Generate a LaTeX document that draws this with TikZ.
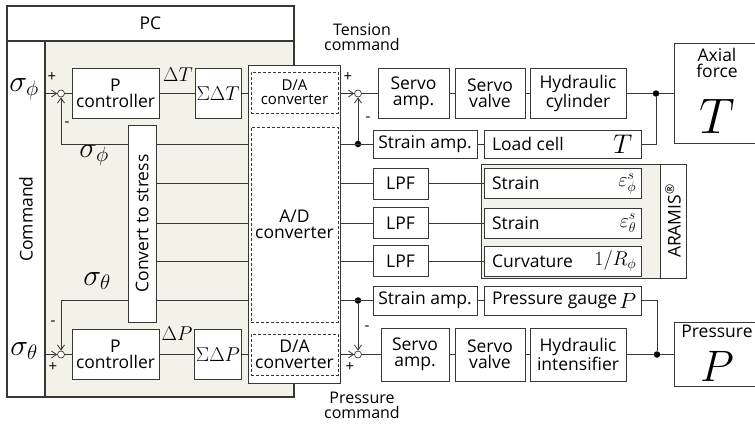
\RequirePackage{fix-cm}
\documentclass[tikz,border=0pt]{standalone}
\usepackage{fontspec}
\setmainfont{Open Sans}
\usepackage{tikz}
\usetikzlibrary{arrows.meta,positioning}
\definecolor{ln}{RGB}{55,55,55}
\definecolor{pcbg}{RGB}{242,242,232}

\begin{document}
\begin{tikzpicture}[x=1pt,y=-1pt,>={Straight Barb[length=5pt,width=7pt]},
  every node/.style={font=\fontsize{17.5}{16}\selectfont},
  frame/.style={draw=ln,line width=1.6pt,inner sep=0pt},
  box/.style={draw=ln,fill=white,line width=0.9pt,inner sep=0pt,align=center},
  dbox/.style={draw=ln,densely dashed,line width=0.6pt,inner sep=0pt,align=center},
  sum/.style={circle,draw=ln,fill=white,line width=0.7pt,inner sep=0pt,minimum size=7pt},
  dot/.style={circle,fill=black,inner sep=0pt,minimum size=6.5pt},
  wire/.style={draw=ln,line width=0.8pt},
  sgn/.style={font=\fontsize{15}{15}\selectfont},
  sig/.style={font=\fontsize{30}{30}\selectfont},
  mth/.style={font=\fontsize{20}{20}\selectfont,inner sep=1pt}]
\useasboundingbox (0,0) rectangle (755,426);

\node[frame,fill=pcbg,minimum width=287pt,minimum height=391pt] (pcbox) at (150.5,201.5) {};
\node[frame,fill=white,minimum width=287pt,minimum height=35pt] (pc) at (150.5,23.5) {PC};
\node[frame,fill=white,minimum width=38pt,minimum height=356pt] (cmd) at (26,219) {};
\node[rotate=90] (cmdtxt) at (cmd) {Command};
\node[sig] (sp1) at (24,89) {$\sigma_\phi$};
\node[sig] (st1) at (24,351) {$\sigma_\theta$};
\node[sum] (j1) at (61,93.5) {};
\node[sum] (j2) at (61,354.5) {};
\node[sgn] (j1p) at (52,77) {+};
\node[sgn] (j1m) at (67,124) {-};
\node[sgn] (j2m) at (53,323) {-};
\node[sgn] (j2p) at (53,367) {+};
\node[box,minimum width=87pt,minimum height=50pt] (pc1) at (115.5,93.5) {P\\controller};
\node[box,minimum width=87pt,minimum height=50pt] (pc2) at (115.5,354.5) {P\\controller};
\node[box,minimum width=46pt,minimum height=50pt,mth] (sdt) at (218,93.5) {$\Sigma\Delta T$};
\node[box,minimum width=46pt,minimum height=50pt,mth] (sdp) at (218,354.5) {$\Sigma\Delta P$};
\node[mth] (ldt) at (178,75) {$\Delta T$};
\node[mth] (ldp) at (177,334) {$\Delta P$};
\node[box,minimum width=28pt,minimum height=197pt] (conv) at (142,223.5) {};
\node[rotate=90] (convtxt) at (conv) {Convert to stress};
\node[sig] (sp2) at (94,155) {$\sigma_\phi$};
\node[sig] (st2) at (97,281) {$\sigma_\theta$};

\node[box,minimum width=92pt,minimum height=318pt] (dac) at (294,224) {};
\node[dbox,minimum width=87pt,minimum height=41pt,font=\fontsize{15}{14}\selectfont] (da1) at (294.5,92.5) {D/A\\converter};
\node[dbox,minimum width=87pt,minimum height=195pt] (ad) at (294.5,224.5) {A/D\\converter};
\node[dbox,minimum width=87pt,minimum height=41pt] (da2) at (294.5,354.5) {D/A\\converter};

\node[align=center,font=\fontsize{16}{15}\selectfont] (tcmd) at (362,37) {Tension\\command};
\node[align=center,font=\fontsize{16}{15}\selectfont] (pcmd) at (362,405) {Pressure\\command};
\node[sum] (jt) at (358,93.5) {};
\node[sum] (jp) at (358,354.5) {};
\node[dot] (dt) at (358,144) {};
\node[dot] (dp) at (358,300.5) {};
\node[sgn] (jtp) at (348,77) {+};
\node[sgn] (jtm) at (368,119) {-};
\node[sgn] (jpm) at (367,328) {-};
\node[sgn] (jpp) at (350,367) {+};

\node[box,minimum width=71pt,minimum height=50pt] (samp1) at (413.5,93.5) {Servo\\amp.};
\node[box,minimum width=70pt,minimum height=50pt] (sval1) at (490,93.5) {Servo\\valve};
\node[box,minimum width=96pt,minimum height=50pt] (hcyl) at (578,93.5) {Hydraulic\\cylinder};
\node[dot] (dax) at (656,93.5) {};
\node[box,minimum width=86pt,minimum height=100pt] (axial) at (717,93.5) {};
\node[align=center] (axtxt) at (717,63) {Axial\\force};
\node[font=\fontsize{50}{50}\selectfont] (axT) at (717,116) {$T$};
\node[box,minimum width=104pt,minimum height=28pt] (stamp1) at (425,144) {Strain amp.};
\node[box,minimum width=157pt,minimum height=28pt] (load) at (562.5,144) {};
\node[anchor=west] (loadtxt) at ([xshift=5pt]load.west) {Load cell};
\node[anchor=east,font=\fontsize{27}{27}\selectfont,inner sep=1pt] (loadT) at ([xshift=-8pt]load.east) {$T$};

\node[box,minimum width=55pt,minimum height=31pt] (lpf1) at (400.5,183.5) {LPF};
\node[box,minimum width=55pt,minimum height=31pt] (lpf2) at (400.5,223) {LPF};
\node[box,minimum width=55pt,minimum height=31pt] (lpf3) at (400.5,261) {LPF};
\node[box,fill=pcbg,minimum width=205pt,minimum height=114pt] (aramis) at (583.5,221) {};
\node[box,minimum width=26pt,minimum height=114pt] (arcol) at (673,221) {};
\node[rotate=90] (artxt) at (arcol) {ARAMIS\textsuperscript{®}};
\node[box,minimum width=157pt,minimum height=30pt] (str1) at (562.5,183.5) {};
\node[box,minimum width=157pt,minimum height=30pt] (str2) at (562.5,223) {};
\node[box,minimum width=157pt,minimum height=30pt] (curv) at (562.5,261) {};
\node[anchor=west] (str1txt) at ([xshift=5pt]str1.west) {Strain};
\node[anchor=west] (str2txt) at ([xshift=5pt]str2.west) {Strain};
\node[anchor=west] (curvtxt) at ([xshift=5pt]curv.west) {Curvature};
\node[anchor=east,mth] (eps1) at ([xshift=-4pt]str1.east) {$\varepsilon^{s}_{\phi}$};
\node[anchor=east,mth] (eps2) at ([xshift=-4pt]str2.east) {$\varepsilon^{s}_{\theta}$};
\node[anchor=east,mth] (rinv) at ([xshift=-4pt]curv.east) {$1/R_{\phi}$};

\node[box,minimum width=104pt,minimum height=29pt] (stamp2) at (425,300.5) {Strain amp.};
\node[box,minimum width=157pt,minimum height=29pt] (pg) at (562.5,300.5) {};
\node[anchor=west] (pgtxt) at ([xshift=5pt]pg.west) {Pressure gauge};
\node[anchor=east,font=\fontsize{22}{22}\selectfont,inner sep=1pt] (pgP) at ([xshift=-4pt]pg.east) {$P$};
\node[box,minimum width=68pt,minimum height=53pt] (samp2) at (415,354.5) {Servo\\amp.};
\node[box,minimum width=70pt,minimum height=53pt] (sval2) at (490,354.5) {Servo\\valve};
\node[box,minimum width=96pt,minimum height=53pt] (hint) at (578,354.5) {Hydraulic\\intensifier};
\node[dot] (dpr) at (657,354.5) {};
\node[box,minimum width=86pt,minimum height=64pt] (press) at (717,354.5) {};
\node (prtxt) at (717,331) {Pressure};
\node[font=\fontsize{44}{44}\selectfont] (prP) at (717,366) {$P$};

\draw[wire,->] (cmd.east |- j1) -- (j1);
\draw[wire] (j1) -- (pc1) -- (sdt);
\draw[wire] (sdt) -- (sdt -| dac.west);
\draw[wire] (dac.west |- dt) -- (conv.east |- dt);
\draw[wire,->] (conv.west |- dt) -| (j1);
\draw[wire] (conv.east |- lpf1) -- (dac.west |- lpf1);
\draw[wire] (conv.east |- lpf2) -- (dac.west |- lpf2);
\draw[wire] (conv.east |- lpf3) -- (dac.west |- lpf3);
\draw[wire] (dac.west |- dp) -- (conv.east |- dp);
\draw[wire,->] (conv.west |- dp) -| (j2);
\draw[wire,->] (cmd.east |- j2) -- (j2);
\draw[wire] (j2) -- (pc2) -- (sdp);
\draw[wire] (sdp) -- (sdp -| dac.west);

\draw[wire,->] (dac.east |- jt) -- (jt);
\draw[wire] (jt) -- (samp1) -- (sval1) -- (hcyl) -- (dax) -- (axial);
\draw[wire] (dax) |- (load);
\draw[wire] (load) -- (stamp1);
\draw[wire] (dac.east |- dt) -- (stamp1);
\draw[wire,->] (dt) -- (jt);
\draw[wire] (dac.east |- lpf1) -- (lpf1) -- (str1);
\draw[wire] (dac.east |- lpf2) -- (lpf2) -- (str2);
\draw[wire] (dac.east |- lpf3) -- (lpf3) -- (curv);
\draw[wire] (dac.east |- dp) -- (stamp2);
\draw[wire,->] (dp) -- (jp);
\draw[wire] (stamp2) -- (pg);
\draw[wire] (pg) -| (dpr);
\draw[wire,->] (dac.east |- jp) -- (jp);
\draw[wire] (jp) -- (samp2) -- (sval2) -- (hint) -- (dpr) -- (press);
\end{tikzpicture}
\end{document}
